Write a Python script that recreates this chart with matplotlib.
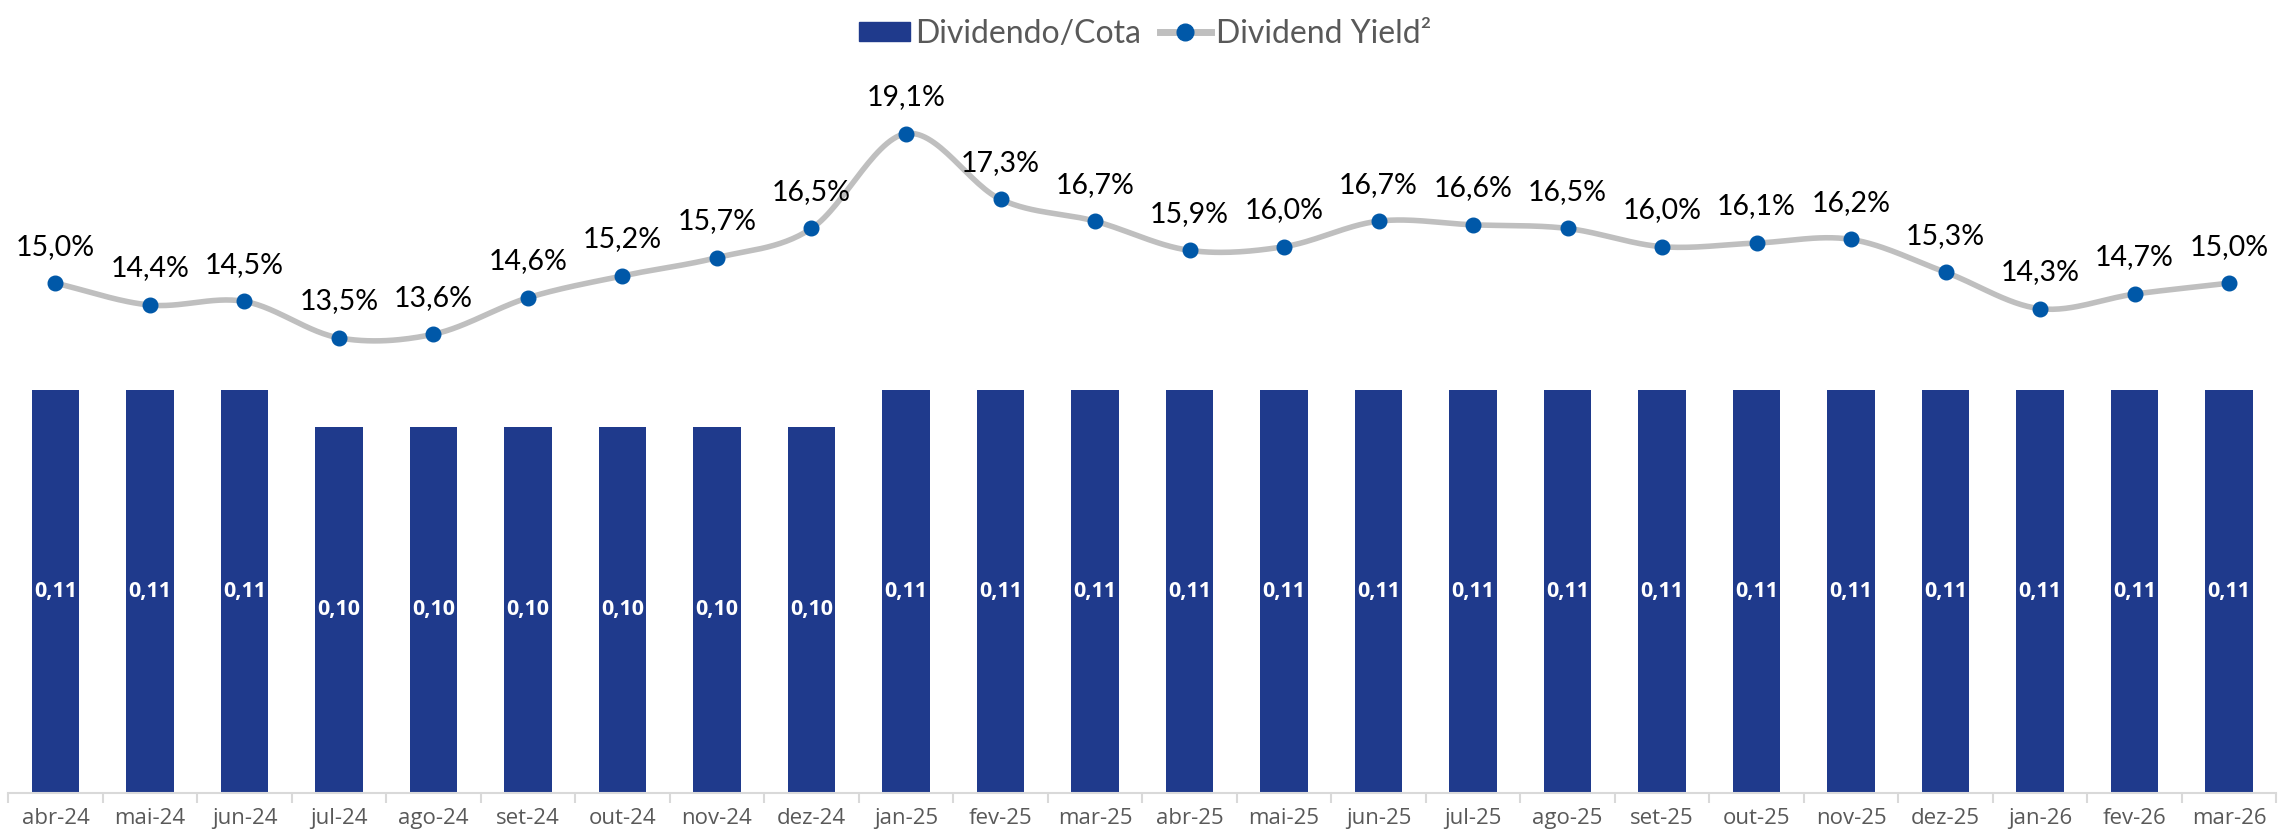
import matplotlib
matplotlib.use('Agg')
import matplotlib.pyplot as plt
from matplotlib.lines import Line2D
from matplotlib.patches import Patch
import numpy as np

months = ['abr-24', 'mai-24', 'jun-24', 'jul-24', 'ago-24', 'set-24', 'out-24', 'nov-24',
          'dez-24', 'jan-25', 'fev-25', 'mar-25', 'abr-25', 'mai-25', 'jun-25', 'jul-25',
          'ago-25', 'set-25', 'out-25', 'nov-25', 'dez-25', 'jan-26', 'fev-26', 'mar-26']
dividendo = [0.11, 0.11, 0.11, 0.10, 0.10, 0.10, 0.10, 0.10, 0.10, 0.11, 0.11, 0.11,
             0.11, 0.11, 0.11, 0.11, 0.11, 0.11, 0.11, 0.11, 0.11, 0.11, 0.11, 0.11]
dy = [15.0, 14.4, 14.5, 13.5, 13.6, 14.6, 15.2, 15.7, 16.5, 19.1, 17.3, 16.7,
      15.9, 16.0, 16.7, 16.6, 16.5, 16.0, 16.1, 16.2, 15.3, 14.3, 14.7, 15.0]

BAR = '#1f3a8c'
LINE = '#bfbfbf'
DOT = '#0058a8'
GREY = '#595959'


def smooth(x, y, n=30):
    # catmull-rom style smoothing, like the excel "smoothed line"
    x = np.asarray(x, float)
    y = np.asarray(y, float)
    px = np.concatenate([[2 * x[0] - x[1]], x, [2 * x[-1] - x[-2]]])
    py = np.concatenate([[2 * y[0] - y[1]], y, [2 * y[-1] - y[-2]]])
    xs, ys = [], []
    for i in range(1, len(px) - 2):
        t = np.linspace(0, 1, n, endpoint=False)
        for p, out in ((px, xs), (py, ys)):
            p0, p1, p2, p3 = p[i - 1], p[i], p[i + 1], p[i + 2]
            out.extend(0.5 * ((2 * p1) + (-p0 + p2) * t
                              + (2 * p0 - 5 * p1 + 4 * p2 - p3) * t ** 2
                              + (-p0 + 3 * p1 - 3 * p2 + p3) * t ** 3))
    xs.append(x[-1])
    ys.append(y[-1])
    return np.array(xs), np.array(ys)


fig = plt.figure(figsize=(22.9, 8.36), dpi=100)
ax = fig.add_axes([0.0036, 0.0514, 0.9904, 0.9])
x = np.arange(len(months))

ax.bar(x, dividendo, width=0.5, color=BAR, zorder=2)
for xi, v in zip(x, dividendo):
    ax.text(xi, v / 2, f"{v:.2f}".replace('.', ','), ha='center', va='center',
            color='white', fontsize=15.5, fontweight='bold', family='Open Sans')

ax.set_xlim(-0.5, len(months) - 0.5)
ax.set_ylim(0, 0.2055)
ax.set_xticks(x)
ax.set_xticklabels(months, fontsize=16, color=GREY, family='Open Sans')
ax.set_xticks(np.arange(-0.5, len(months)), minor=True)
ax.tick_params(axis='x', which='major', length=0, pad=11)
ax.tick_params(axis='x', which='minor', length=7, color='#d9d9d9', width=1.5)
ax.set_yticks([])
for s in ['top', 'right', 'left']:
    ax.spines[s].set_visible(False)
ax.spines['bottom'].set_color('#d9d9d9')
ax.spines['bottom'].set_linewidth(1.5)

ax2 = ax.twinx()
ax2.set_ylim(1.02, 21.65)
ax2.set_yticks([])
for s in ax2.spines.values():
    s.set_visible(False)
sx, sy = smooth(x, dy)
ax2.plot(sx, sy, color=LINE, lw=4, zorder=3, solid_capstyle='round')
ax2.plot(x, dy, 'o', color=DOT, ms=10.5, zorder=4)
for xi, v in zip(x, dy):
    ax2.annotate(f"{v:.1f}%".replace('.', ','), (xi, v), xytext=(0, 17),
                 textcoords='offset points', ha='center', va='bottom',
                 fontsize=20.5, color='black', family='Lato')

handles = [Patch(color=BAR, label='Dividendo/Cota'),
           Line2D([0], [0], color=LINE, lw=5, marker='o', ms=12,
                  markerfacecolor=DOT, markeredgecolor=DOT, label='Dividend Yield²')]
fig.legend(handles=handles, loc='upper center', bbox_to_anchor=(0.5, 1.012), ncol=2,
           frameon=False, prop={'family': 'Lato', 'size': 23}, labelcolor=GREY,
           handlelength=1.6, handleheight=0.55, columnspacing=0.6, handletextpad=0.15)

fig.savefig('out.png', dpi=100)
